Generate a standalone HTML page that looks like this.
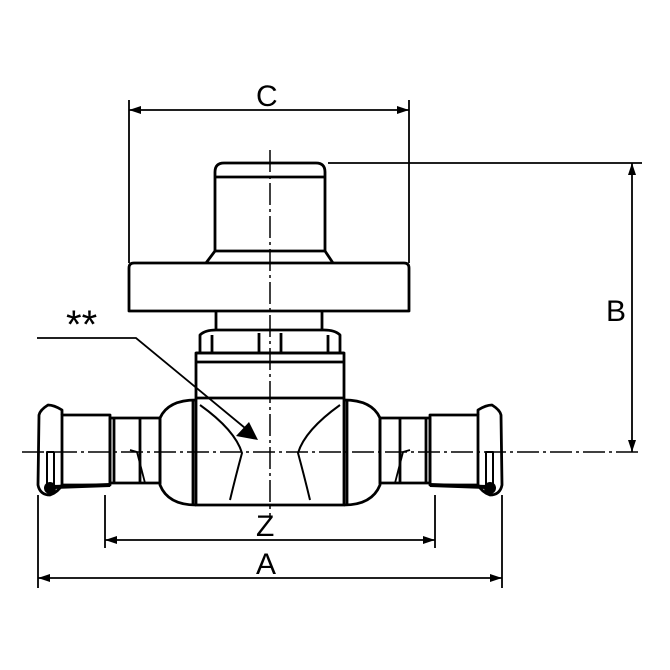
<!DOCTYPE html>
<html><head><style>html,body{margin:0;padding:0;background:#fff}svg{display:block}text{font-family:"Liberation Sans",sans-serif;fill:#000}</style></head>
<body>
<svg width="670" height="670" viewBox="0 0 670 670" xmlns="http://www.w3.org/2000/svg">
<defs>
<marker id="ar" viewBox="0 0 12 8" refX="12" refY="4" markerWidth="12" markerHeight="8" orient="auto-start-reverse" markerUnits="userSpaceOnUse"><path d="M0,0 L12,4 L0,8z" fill="#000"/></marker>
</defs>
<g fill="none" stroke="#000" stroke-width="2.8" stroke-linejoin="round">
<path d="M215,251 L215,172 Q215,163 224,163 L316,163 Q325,163 325,172 L325,251"/>
<line x1="215" y1="177" x2="325" y2="177"/>
<path d="M206,263 L215,251 L325,251 L333,263"/>
<path d="M129,268 Q129,263 134,263 L404,263 Q409,263 409,268 L409,311 L129,311 Z"/>
<line x1="216" y1="311" x2="216" y2="330"/><line x1="322" y1="311" x2="322" y2="330"/>
<path d="M200,353 L200,335 Q205,330 216,330 L324,330 Q335,330 340,335 L340,353"/>
<line x1="196" y1="353" x2="344" y2="353"/>
<line x1="212" y1="335" x2="212" y2="353"/><line x1="328" y1="335" x2="328" y2="353"/>
<line x1="259" y1="333" x2="259" y2="353"/><line x1="281" y1="333" x2="281" y2="353"/>
<line x1="196" y1="362" x2="344" y2="362"/>
<rect x="196" y="353" width="148" height="152"/>
<line x1="196" y1="398" x2="344" y2="398"/>
<path d="M200,405 Q235,430 242,453 Q236,475 230,500" stroke-width="2"/>
<path d="M340,405 Q305,430 298,453 Q304,475 310,500" stroke-width="2"/>
<g id="side">
<line x1="347" y1="400" x2="347" y2="505"/>
<path d="M344,400 Q372,400 380,418 L380,485 Q372,505 344,505"/>
<rect x="380" y="418" width="50" height="65"/>
<line x1="400" y1="418" x2="400" y2="483"/><line x1="426" y1="418" x2="426" y2="483"/>
<path d="M395,483 L403,452 L410,450" stroke-width="1.8"/>
<rect x="430" y="415" width="48" height="70"/>
<path d="M478,415 L478,410 Q486,405 492,405 Q500,410 501,415 L502,485 Q500,495 490,495 Q482,492 478,485"/>
<rect x="486" y="452" width="7" height="33" stroke-width="2"/>
<circle cx="490" cy="488" r="6" fill="#000" stroke="none"/>
<line x1="430" y1="485" x2="486" y2="487" stroke-width="4"/>
</g>
<use href="#side" transform="translate(540,0) scale(-1,1)"/>
</g>
<g stroke="#000" stroke-width="1.5" stroke-dasharray="22,4,3,4" fill="none">
<line x1="270" y1="150" x2="270" y2="520"/>
<line x1="22" y1="452" x2="640" y2="452"/>
</g>
<g stroke="#000" stroke-width="1.8" fill="none">
<line x1="129" y1="100" x2="129" y2="263"/><line x1="409" y1="100" x2="409" y2="263"/>
<line x1="129" y1="110" x2="409" y2="110" marker-start="url(#ar)" marker-end="url(#ar)"/>
<line x1="328" y1="163" x2="642" y2="163"/>
<line x1="632" y1="163" x2="632" y2="452" marker-start="url(#ar)" marker-end="url(#ar)"/>
<line x1="105" y1="495" x2="105" y2="548"/><line x1="435" y1="495" x2="435" y2="548"/>
<line x1="105" y1="540" x2="435" y2="540" marker-start="url(#ar)" marker-end="url(#ar)"/>
<line x1="38" y1="495" x2="38" y2="588"/><line x1="502" y1="495" x2="502" y2="588"/>
<line x1="38" y1="578" x2="502" y2="578" marker-start="url(#ar)" marker-end="url(#ar)"/>
<polyline points="37,338 136,338 245,428"/>
</g>
<path d="M258,440 L236,436 L249,422 Z" fill="#000"/>
<g font-size="30">
<text x="256" y="106">C</text>
<text x="606" y="321">B</text>
<text x="256" y="536">Z</text>
<text x="256" y="574">A</text>
<text x="66" y="338" font-size="40">**</text>
</g>
</svg>
</body></html>
